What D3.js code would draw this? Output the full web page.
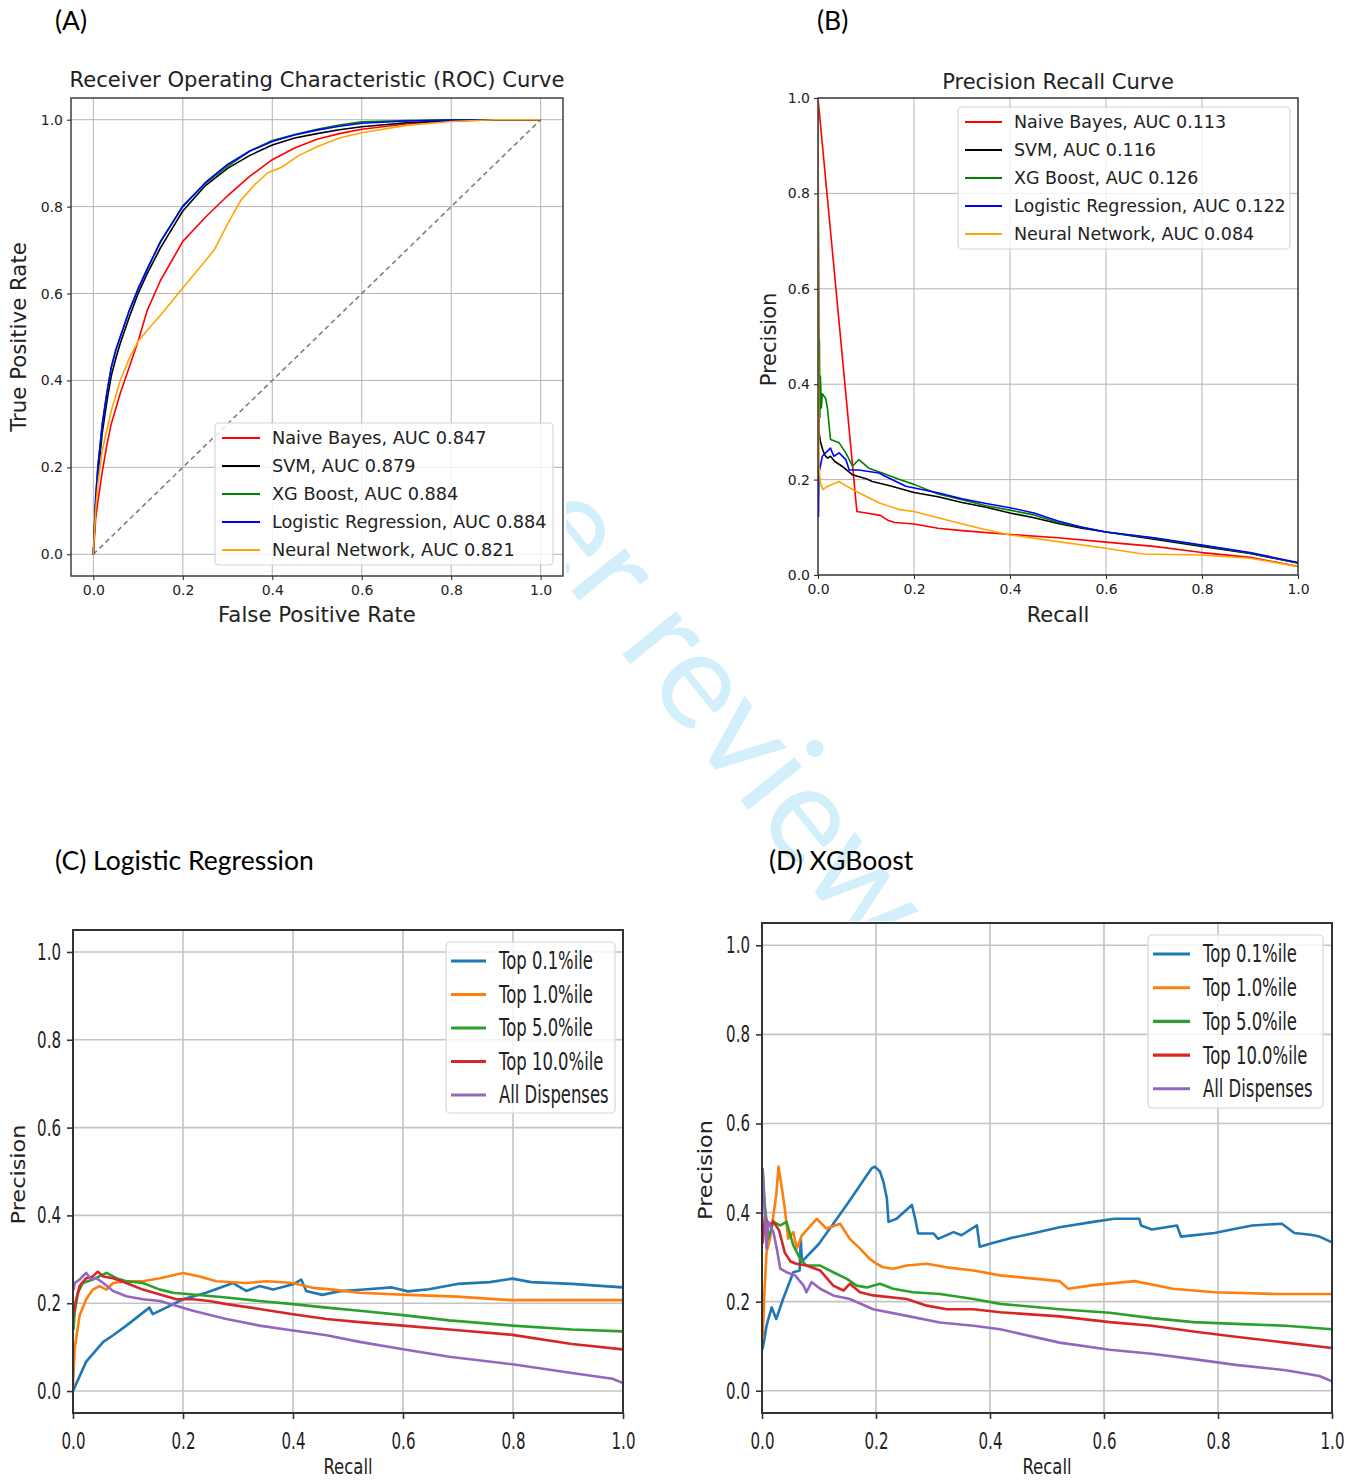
<!DOCTYPE html>
<html>
<head>
<meta charset="utf-8">
<script src="https://cdn.jsdelivr.net/npm/d3@7"></script>
<style>
  body { margin: 0; background: #fff; }
</style>
</head>
<body>
<svg id="fig" width="1348" height="1482"></svg>
<script>

// ---------- (A) ROC curves: [fpr, tpr] ----------
var rocNames = ["Naive Bayes, AUC 0.847", "SVM, AUC 0.879", "XG Boost, AUC 0.884",
                "Logistic Regression, AUC 0.884", "Neural Network, AUC 0.821"];
var rocNB = [[0,0],[0.005,0.08],[0.01,0.12],[0.02,0.19],[0.03,0.25],[0.04,0.3],[0.06,0.37],[0.08,0.43],[0.1,0.49],[0.12,0.56],[0.15,0.63],[0.2,0.72],[0.25,0.775],[0.3,0.825],[0.35,0.87],[0.4,0.908],[0.45,0.935],[0.5,0.955],[0.55,0.968],[0.6,0.978],[0.7,0.99],[0.8,0.997],[0.9,1],[1,1]];
var rocSVM = [[0,0],[0.005,0.11],[0.01,0.18],[0.02,0.28],[0.03,0.35],[0.04,0.41],[0.05,0.45],[0.06,0.485],[0.08,0.545],[0.1,0.6],[0.12,0.645],[0.15,0.705],[0.2,0.79],[0.25,0.848],[0.3,0.888],[0.35,0.918],[0.4,0.942],[0.45,0.958],[0.5,0.968],[0.55,0.977],[0.6,0.984],[0.7,0.993],[0.8,0.998],[0.9,1],[1,1]];
var rocXGB = [[0,0],[0.005,0.12],[0.01,0.2],[0.02,0.3],[0.03,0.37],[0.04,0.43],[0.05,0.468],[0.06,0.5],[0.08,0.56],[0.1,0.612],[0.12,0.656],[0.15,0.718],[0.2,0.802],[0.25,0.853],[0.3,0.893],[0.35,0.928],[0.4,0.952],[0.45,0.966],[0.5,0.978],[0.55,0.988],[0.6,0.995],[0.7,0.998],[0.8,1],[1,1]];
var rocLR = [[0,0],[0.005,0.13],[0.01,0.2],[0.02,0.3],[0.03,0.37],[0.04,0.43],[0.05,0.47],[0.06,0.5],[0.08,0.56],[0.1,0.61],[0.12,0.655],[0.15,0.72],[0.2,0.8],[0.25,0.855],[0.3,0.897],[0.35,0.928],[0.4,0.95],[0.45,0.965],[0.5,0.976],[0.55,0.985],[0.6,0.992],[0.7,0.997],[0.8,0.999],[0.9,1],[1,1]];
var rocNN = [[0,0],[0.005,0.1],[0.01,0.16],[0.02,0.24],[0.04,0.33],[0.06,0.4],[0.08,0.45],[0.1,0.49],[0.12,0.515],[0.15,0.55],[0.2,0.613],[0.25,0.675],[0.27,0.7],[0.3,0.76],[0.33,0.815],[0.36,0.85],[0.39,0.878],[0.42,0.89],[0.46,0.918],[0.5,0.938],[0.55,0.958],[0.6,0.97],[0.7,0.987],[0.8,0.996],[0.9,1],[1,1]];
var rocChance = [[0,0],[1,1]];

// ---------- (B) precision-recall curves: [recall, precision] ----------
var prNames = ["Naive Bayes, AUC 0.113", "SVM, AUC 0.116", "XG Boost, AUC 0.126",
               "Logistic Regression, AUC 0.122", "Neural Network, AUC 0.084"];
var prNB = [[0,1],[0.081,0.133],[0.1,0.13],[0.13,0.125],[0.145,0.115],[0.16,0.11],[0.2,0.107],[0.25,0.098],[0.3,0.093],[0.4,0.085],[0.5,0.078],[0.6,0.069],[0.7,0.06],[0.8,0.047],[0.9,0.037],[1,0.018]];
var prSVM = [[0,1],[0.002,0.3],[0.005,0.28],[0.01,0.262],[0.015,0.25],[0.02,0.245],[0.026,0.249],[0.035,0.238],[0.05,0.228],[0.072,0.21],[0.1,0.202],[0.113,0.196],[0.15,0.187],[0.2,0.173],[0.25,0.164],[0.3,0.152],[0.35,0.142],[0.4,0.13],[0.45,0.12],[0.5,0.108],[0.55,0.098],[0.6,0.09],[0.7,0.075],[0.8,0.06],[0.9,0.045],[1,0.025]];
var prXGB = [[0,1],[0.001,0.5],[0.003,0.49],[0.004,0.33],[0.005,0.417],[0.007,0.35],[0.009,0.38],[0.016,0.37],[0.02,0.347],[0.026,0.284],[0.044,0.277],[0.058,0.256],[0.072,0.228],[0.085,0.242],[0.106,0.224],[0.134,0.214],[0.17,0.2],[0.2,0.19],[0.25,0.17],[0.3,0.158],[0.35,0.145],[0.4,0.136],[0.45,0.126],[0.5,0.11],[0.55,0.1],[0.6,0.09],[0.7,0.077],[0.8,0.062],[0.9,0.046],[1,0.025]];
var prLR = [[0,1],[0.001,0.123],[0.002,0.214],[0.009,0.249],[0.026,0.266],[0.033,0.249],[0.044,0.256],[0.058,0.242],[0.065,0.22],[0.085,0.22],[0.127,0.214],[0.14,0.207],[0.183,0.186],[0.252,0.172],[0.3,0.16],[0.35,0.15],[0.4,0.141],[0.45,0.13],[0.5,0.113],[0.55,0.1],[0.6,0.09],[0.7,0.078],[0.8,0.063],[0.9,0.047],[1,0.026]];
var prNN = [[0,1],[0.001,0.48],[0.002,0.228],[0.005,0.193],[0.01,0.179],[0.02,0.186],[0.044,0.196],[0.06,0.186],[0.086,0.172],[0.128,0.151],[0.17,0.137],[0.2,0.133],[0.25,0.12],[0.297,0.108],[0.35,0.095],[0.4,0.084],[0.5,0.07],[0.6,0.056],[0.676,0.044],[0.8,0.042],[0.9,0.035],[1,0.018]];

// ---------- (C) / (D) precision-recall by dispense percentile ----------
var pctNames = ["Top 0.1%ile", "Top 1.0%ile", "Top 5.0%ile", "Top 10.0%ile", "All Dispenses"];

var lrTop01 = [[0,0],[0.024,0.067],[0.055,0.112],[0.073,0.127],[0.097,0.149],[0.139,0.19],[0.145,0.175],[0.176,0.194],[0.2,0.209],[0.242,0.224],[0.291,0.246],[0.315,0.228],[0.339,0.239],[0.364,0.231],[0.4,0.243],[0.415,0.254],[0.424,0.228],[0.453,0.219],[0.483,0.227],[0.535,0.232],[0.58,0.236],[0.609,0.227],[0.647,0.232],[0.699,0.244],[0.758,0.248],[0.799,0.256],[0.833,0.248],[0.907,0.244],[0.952,0.24],[1,0.236]];
var lrTop1 = [[0,0.01],[0.003,0.097],[0.012,0.172],[0.024,0.209],[0.036,0.231],[0.048,0.239],[0.061,0.231],[0.073,0.246],[0.097,0.25],[0.127,0.25],[0.158,0.257],[0.2,0.269],[0.23,0.261],[0.261,0.25],[0.315,0.246],[0.352,0.25],[0.4,0.246],[0.436,0.235],[0.473,0.231],[0.521,0.224],[0.609,0.219],[0.699,0.215],[0.795,0.207],[0.907,0.207],[1,0.207]];
var lrTop5 = [[0.001,0.14],[0.003,0.179],[0.009,0.224],[0.018,0.246],[0.036,0.254],[0.061,0.269],[0.079,0.257],[0.097,0.25],[0.127,0.246],[0.158,0.231],[0.182,0.224],[0.218,0.22],[0.279,0.213],[0.339,0.205],[0.4,0.198],[0.461,0.19],[0.521,0.183],[0.6,0.173],[0.684,0.161],[0.799,0.149],[0.907,0.14],[1,0.136]];
var lrTop10 = [[0.001,0.17],[0.003,0.194],[0.012,0.239],[0.024,0.257],[0.036,0.261],[0.045,0.272],[0.055,0.261],[0.073,0.257],[0.097,0.246],[0.127,0.231],[0.158,0.22],[0.188,0.209],[0.218,0.209],[0.248,0.205],[0.279,0.198],[0.339,0.187],[0.4,0.175],[0.461,0.164],[0.521,0.157],[0.6,0.149],[0.684,0.14],[0.799,0.128],[0.907,0.107],[1,0.095]];
var lrAll = [[0.001,0.23],[0.003,0.246],[0.012,0.254],[0.024,0.269],[0.033,0.254],[0.042,0.257],[0.055,0.246],[0.073,0.228],[0.097,0.216],[0.127,0.209],[0.158,0.205],[0.188,0.194],[0.218,0.183],[0.279,0.164],[0.339,0.149],[0.4,0.138],[0.461,0.127],[0.521,0.112],[0.6,0.095],[0.684,0.078],[0.799,0.061],[0.907,0.041],[0.981,0.028],[1,0.018]];

var xgTop01 = [[0.001,0.093],[0.008,0.146],[0.017,0.187],[0.025,0.161],[0.037,0.206],[0.055,0.266],[0.066,0.27],[0.068,0.34],[0.07,0.29],[0.1,0.33],[0.15,0.42],[0.192,0.499],[0.198,0.503],[0.207,0.492],[0.213,0.469],[0.219,0.432],[0.222,0.379],[0.236,0.386],[0.263,0.417],[0.268,0.39],[0.274,0.353],[0.301,0.353],[0.309,0.341],[0.336,0.356],[0.35,0.349],[0.377,0.371],[0.382,0.323],[0.4,0.33],[0.434,0.342],[0.478,0.354],[0.522,0.367],[0.581,0.379],[0.618,0.386],[0.662,0.386],[0.665,0.371],[0.684,0.362],[0.728,0.371],[0.735,0.346],[0.794,0.354],[0.824,0.362],[0.86,0.371],[0.912,0.375],[0.934,0.354],[0.963,0.35],[0.978,0.346],[1,0.333]];
var xgTop1 = [[0.001,0.116],[0.004,0.214],[0.008,0.311],[0.014,0.341],[0.025,0.439],[0.029,0.503],[0.035,0.454],[0.04,0.409],[0.046,0.341],[0.055,0.356],[0.061,0.319],[0.07,0.349],[0.096,0.386],[0.113,0.364],[0.137,0.375],[0.154,0.341],[0.172,0.319],[0.189,0.296],[0.201,0.285],[0.213,0.277],[0.23,0.274],[0.254,0.281],[0.289,0.285],[0.324,0.277],[0.371,0.27],[0.418,0.259],[0.522,0.246],[0.537,0.229],[0.581,0.237],[0.654,0.246],[0.721,0.229],[0.794,0.221],[0.904,0.217],[1,0.217]];
var xgTop5 = [[0.001,0.499],[0.005,0.417],[0.011,0.341],[0.02,0.379],[0.032,0.371],[0.043,0.379],[0.055,0.326],[0.067,0.296],[0.078,0.281],[0.102,0.281],[0.125,0.266],[0.149,0.251],[0.166,0.236],[0.184,0.232],[0.207,0.24],[0.23,0.229],[0.265,0.221],[0.312,0.217],[0.371,0.206],[0.418,0.195],[0.522,0.183],[0.61,0.175],[0.684,0.163],[0.757,0.154],[0.831,0.15],[0.919,0.146],[1,0.138]];
var xgTop10 = [[0.001,0.33],[0.005,0.39],[0.012,0.37],[0.02,0.38],[0.03,0.36],[0.04,0.31],[0.05,0.29],[0.06,0.285],[0.078,0.281],[0.102,0.27],[0.125,0.236],[0.143,0.225],[0.154,0.24],[0.172,0.221],[0.195,0.214],[0.254,0.206],[0.289,0.191],[0.324,0.183],[0.371,0.183],[0.418,0.176],[0.522,0.167],[0.61,0.154],[0.684,0.146],[0.757,0.133],[0.831,0.121],[0.919,0.108],[1,0.096]];
var xgAll = [[0.001,0.5],[0.004,0.417],[0.008,0.319],[0.011,0.379],[0.02,0.356],[0.026,0.319],[0.032,0.274],[0.043,0.266],[0.058,0.259],[0.073,0.236],[0.078,0.221],[0.087,0.244],[0.102,0.229],[0.125,0.214],[0.154,0.206],[0.195,0.183],[0.254,0.168],[0.312,0.153],[0.371,0.146],[0.418,0.138],[0.522,0.108],[0.61,0.092],[0.684,0.083],[0.757,0.071],[0.831,0.058],[0.919,0.046],[0.978,0.033],[1,0.021]];

var ticks = [0, 0.2, 0.4, 0.6, 0.8, 1.0];
var basicColors = ["#ff0000", "#000000", "#008000", "#0000ff", "#ffa500"];
var tabColors = ["#1f77b4", "#ff7f0e", "#2ca02c", "#d62728", "#9467bd"];

var svg = d3.select("#fig");
var fmt = d3.format(".1f");

// watermark sits behind the panel pictures
svg.append("text")
    .attr("transform", "translate(520,528) rotate(51)")
    .attr("font-family", "Lato, sans-serif")
    .attr("font-size", 136)
    .attr("fill", "#d2effb")
    .text("er review");
svg.append("rect").attr("x", 0).attr("y", 60).attr("width", 566).attr("height", 580).attr("fill", "#fff");
svg.append("rect").attr("x", 690).attr("y", 921).attr("width", 658).attr("height", 561).attr("fill", "#fff");

// panel letters
var tags = [["(A)", 55, 30], ["(B)", 817, 30], ["(C) Logistic Regression", 55, 870], ["(D) XGBoost", 769, 870]];
svg.append("g").selectAll("text").data(tags).join("text")
    .attr("x", d => d[1]).attr("y", d => d[2])
    .attr("font-family", "Lato, sans-serif").attr("font-size", 26.5).attr("fill", "#000")
    .text(d => d[0]);

var clipN = 0;
function drawPanel(o) {
    var g = svg.append("g");
    var x = d3.scaleLinear().domain(o.xDomain).range([o.left, o.right]);
    var y = d3.scaleLinear().domain(o.yDomain).range([o.bottom, o.top]);

    // grid
    g.append("g").selectAll("line").data(ticks).join("line")
        .attr("x1", d => x(d)).attr("x2", d => x(d))
        .attr("y1", o.top).attr("y2", o.bottom)
        .attr("stroke", o.gridColor).attr("stroke-width", o.gridWidth);
    g.append("g").selectAll("line").data(ticks).join("line")
        .attr("y1", d => y(d)).attr("y2", d => y(d))
        .attr("x1", o.left).attr("x2", o.right)
        .attr("stroke", o.gridColor).attr("stroke-width", o.gridWidth);

    // curves
    var id = "clip" + (clipN++);
    g.append("clipPath").attr("id", id).append("rect")
        .attr("x", o.left).attr("y", o.top)
        .attr("width", o.right - o.left).attr("height", o.bottom - o.top);
    var line = d3.line().x(d => x(d[0])).y(d => y(d[1]));
    var cg = g.append("g").attr("clip-path", "url(#" + id + ")");
    if (o.diagonal) {
        cg.append("path").attr("d", line(o.diagonal)).attr("fill", "none")
            .attr("stroke", "#808080").attr("stroke-width", 1.6).attr("stroke-dasharray", "5,3.5");
    }
    cg.selectAll("path.curve").data(o.series).join("path")
        .attr("class", "curve")
        .attr("d", line).attr("fill", "none")
        .attr("stroke", (d, i) => o.colors[i]).attr("stroke-width", o.lineWidth)
        .attr("stroke-linejoin", "round");

    // spines
    g.append("rect")
        .attr("x", o.left).attr("y", o.top)
        .attr("width", o.right - o.left).attr("height", o.bottom - o.top)
        .attr("fill", "none").attr("stroke", "#333").attr("stroke-width", o.spineWidth);

    // axes
    var xa = g.append("g").attr("transform", `translate(0,${o.bottom})`)
        .call(d3.axisBottom(x).tickValues(ticks).tickFormat(fmt).tickSize(o.tickLen).tickPadding(o.xTickPad || o.tickPad));
    var ya = g.append("g").attr("transform", `translate(${o.left},0)`)
        .call(d3.axisLeft(y).tickValues(ticks).tickFormat(fmt).tickSize(o.tickLen).tickPadding(o.tickPad));
    [xa, ya].forEach(a => {
        a.select(".domain").remove();
        a.selectAll(".tick line").attr("stroke", "#333").attr("stroke-width", o.spineWidth * 0.8);
        a.selectAll("text").attr("font-family", o.font).attr("font-size", o.tickSize).attr("fill", "#222");
    });
    if (o.tickSqueeze) {
        xa.selectAll("text").attr("transform", `scale(${o.tickSqueeze},1)`);
        ya.selectAll("text").attr("x", -(o.tickLen + o.tickPad) / o.tickSqueeze)
            .attr("transform", `scale(${o.tickSqueeze},1)`);
    }

    // title and axis labels
    var cx = (o.left + o.right) / 2, cy = (o.top + o.bottom) / 2;
    if (o.title) {
        g.append("text").attr("x", cx).attr("y", o.titleY).attr("text-anchor", "middle")
            .attr("font-family", o.font).attr("font-size", o.titleSize).attr("fill", "#222")
            .text(o.title);
    }
    g.append("text")
        .attr("transform", `translate(${cx},${o.xLabelY}) scale(${o.labelSqueeze || 1},1)`)
        .attr("text-anchor", "middle")
        .attr("font-family", o.font).attr("font-size", o.labelSize).attr("fill", "#222")
        .text(o.xLabel);
    g.append("text")
        .attr("transform", `translate(${o.yLabelX},${cy + (o.yLabelShift || 0)}) rotate(-90) scale(${o.yLabelStretch || 1},1)`)
        .attr("text-anchor", "middle")
        .attr("font-family", o.font).attr("font-size", o.yLabelSize || o.labelSize).attr("fill", "#222")
        .text(o.yLabel);

    // legend
    var L = o.legend;
    g.append("rect")
        .attr("x", L.x).attr("y", L.y).attr("width", L.w).attr("height", L.h)
        .attr("rx", 4).attr("fill", "#fff").attr("fill-opacity", 0.8)
        .attr("stroke", "#d6d6d6").attr("stroke-width", 1.2);
    var items = g.append("g").selectAll("g").data(o.names).join("g")
        .attr("transform", (d, i) => `translate(0,${L.first + i * L.step})`);
    items.append("line")
        .attr("x1", L.x + L.lineFrom).attr("x2", L.x + L.lineTo)
        .attr("stroke", (d, i) => o.colors[i]).attr("stroke-width", o.lineWidth + 0.5);
    items.append("text")
        .attr("transform", `translate(${L.x + L.textX},0) scale(${L.squeeze || 1},1)`)
        .attr("dy", "0.35em")
        .attr("font-family", o.font).attr("font-size", L.size).attr("fill", "#222")
        .text(d => d);
}

var mplFont = "'DejaVu Sans', sans-serif";

drawPanel({
    left: 71, right: 563, top: 98, bottom: 576,
    xDomain: [-0.05, 1.05], yDomain: [-0.05, 1.05],
    series: [rocNB, rocSVM, rocXGB, rocLR, rocNN], diagonal: rocChance,
    colors: basicColors, names: rocNames, lineWidth: 1.6,
    gridColor: "#b4b4b4", gridWidth: 1, spineWidth: 1.4,
    tickLen: 4, tickPad: 4, xTickPad: 5, tickSize: 14, font: mplFont,
    title: "Receiver Operating Characteristic (ROC) Curve", titleY: 87, titleSize: 21.1,
    xLabel: "False Positive Rate", xLabelY: 622, labelSize: 21.3,
    yLabel: "True Positive Rate", yLabelX: 26, yLabelShift: 0,
    legend: { x: 215, y: 423, w: 338, h: 142, first: 438, step: 28, lineFrom: 7, lineTo: 45, textX: 57, size: 17.7 }
});

drawPanel({
    left: 818, right: 1298, top: 98, bottom: 575,
    xDomain: [0, 1], yDomain: [0, 1],
    series: [prNB, prSVM, prXGB, prLR, prNN],
    colors: basicColors, names: prNames, lineWidth: 1.6,
    gridColor: "#b4b4b4", gridWidth: 1, spineWidth: 1.4,
    tickLen: 4, tickPad: 4, xTickPad: 5, tickSize: 14, font: mplFont,
    title: "Precision Recall Curve", titleY: 89, titleSize: 21,
    xLabel: "Recall", xLabelY: 622, labelSize: 21,
    yLabel: "Precision", yLabelX: 776, yLabelShift: 3,
    legend: { x: 958, y: 107, w: 332, h: 142, first: 122, step: 28, lineFrom: 7, lineTo: 44, textX: 56, size: 17.5 }
});

drawPanel({
    left: 73, right: 623, top: 930, bottom: 1413,
    xDomain: [0, 1], yDomain: [-0.05, 1.05],
    series: [lrTop01, lrTop1, lrTop5, lrTop10, lrAll],
    colors: tabColors, names: pctNames, lineWidth: 2.6,
    gridColor: "#c4c4c4", gridWidth: 1.6, spineWidth: 2,
    tickLen: 6, tickPad: 6, xTickPad: 13, tickSize: 23.5, tickSqueeze: 0.64, font: mplFont,
    xLabel: "Recall", xLabelY: 1474, labelSize: 22, labelSqueeze: 0.75,
    yLabel: "Precision", yLabelX: 25, yLabelShift: 3, yLabelSize: 19.5, yLabelStretch: 1.15,
    legend: { x: 446, y: 942, w: 169, h: 171, first: 961, step: 33.5, lineFrom: 5, lineTo: 40, textX: 53, size: 24, squeeze: 0.685 }
});

drawPanel({
    left: 762, right: 1332, top: 923, bottom: 1413,
    xDomain: [0, 1], yDomain: [-0.05, 1.05],
    series: [xgTop01, xgTop1, xgTop5, xgTop10, xgAll],
    colors: tabColors, names: pctNames, lineWidth: 2.6,
    gridColor: "#c4c4c4", gridWidth: 1.6, spineWidth: 2,
    tickLen: 6, tickPad: 6, xTickPad: 13, tickSize: 23.5, tickSqueeze: 0.64, font: mplFont,
    xLabel: "Recall", xLabelY: 1474, labelSize: 22, labelSqueeze: 0.75,
    yLabel: "Precision", yLabelX: 712, yLabelShift: 2, yLabelSize: 19.5, yLabelStretch: 1.15,
    legend: { x: 1148, y: 935, w: 175, h: 173, first: 954, step: 33.7, lineFrom: 5, lineTo: 42, textX: 55, size: 24, squeeze: 0.685 }
});

</script>
</body>
</html>
